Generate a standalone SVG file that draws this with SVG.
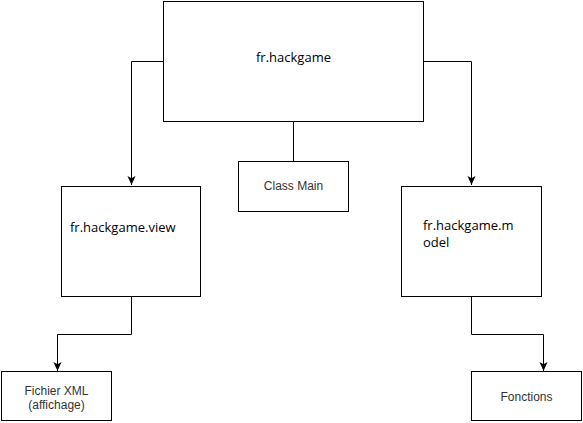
<svg xmlns="http://www.w3.org/2000/svg" width="583" height="423" viewBox="0 0 583 423">
<style>
.box{fill:#fff;stroke:#000;stroke-width:1}
.edge{fill:none;stroke:#000;stroke-width:1}
.pk{font-family:"Open Sans","DejaVu Sans",sans-serif;font-size:13px;fill:#000}
.lb{font-family:"Liberation Sans",Arial,sans-serif;font-size:12px;fill:#333}
</style>
<defs>
<marker id="arr" viewBox="0 0 10 10" refX="10" refY="5" markerWidth="9" markerHeight="9" markerUnits="userSpaceOnUse" orient="auto">
<path d="M0,0.5 L10,5 L0,9.5 L2.5,5 Z" fill="#000"/>
</marker>
</defs>
<rect width="583" height="423" fill="#fff"/>
<g id="connectors">
<path class="edge" d="M163.5,61.5 H131.5 V185" marker-end="url(#arr)"/>
<path class="edge" d="M423.5,61.5 H471.5 V185" marker-end="url(#arr)"/>
<path class="edge" d="M293.5,121.5 V161.5"/>
<path class="edge" d="M131.5,296.5 V334.5 H57.5 V371" marker-end="url(#arr)"/>
<path class="edge" d="M471.5,296.5 V334.5 H543.5 V371" marker-end="url(#arr)"/>
</g>
<g id="root">
<rect class="box" x="163.5" y="1.5" width="260" height="120"/>
<text class="pk" x="293.5" y="62" text-anchor="middle">fr.hackgame</text>
</g>
<g id="main">
<rect class="box" x="238.5" y="161.5" width="110" height="50"/>
<text class="lb" x="293.5" y="190" text-anchor="middle">Class Main</text>
</g>
<g id="view">
<rect class="box" x="61.5" y="186.5" width="139" height="110"/>
<text class="pk" x="70" y="232">fr.hackgame.view</text>
</g>
<g id="model">
<rect class="box" x="401.5" y="186.5" width="140" height="110"/>
<text class="pk" x="423" y="230">fr.hackgame.m</text>
<text class="pk" x="423" y="247">odel</text>
</g>
<g id="xml">
<rect class="box" x="1.5" y="371.5" width="110" height="49"/>
<text class="lb" x="56.5" y="395" text-anchor="middle">Fichier XML</text>
<text class="lb" x="56.5" y="409" text-anchor="middle">(affichage)</text>
</g>
<g id="fonctions">
<rect class="box" x="471.5" y="371.5" width="110" height="49"/>
<text class="lb" x="526.5" y="401" text-anchor="middle">Fonctions</text>
</g>
</svg>
